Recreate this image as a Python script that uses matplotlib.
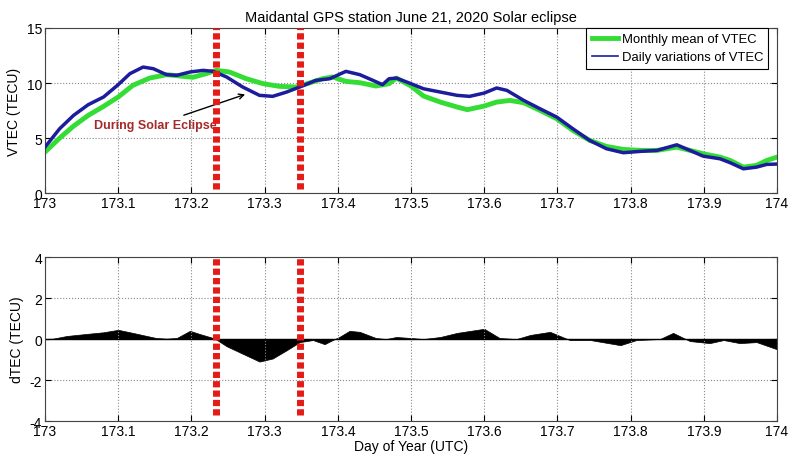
import numpy as np
import matplotlib
matplotlib.use("Agg")
import matplotlib.pyplot as plt

plt.rcParams['font.family'] = ['Liberation Sans', 'DejaVu Sans']
plt.rcParams['font.size'] = 10
plt.rcParams['axes.unicode_minus'] = False

# =============================
# DATA
# =============================
day_daily = [173.0, 173.02, 173.039, 173.059, 173.08, 173.1, 173.116, 173.134, 173.148, 173.166,
             173.18, 173.198, 173.216, 173.23, 173.248, 173.27, 173.293, 173.311, 173.33, 173.348,
             173.37, 173.389, 173.411, 173.43, 173.448, 173.461, 173.47, 173.48, 173.5, 173.517,
             173.54, 173.563, 173.58, 173.6, 173.617, 173.631, 173.654, 173.676, 173.699, 173.721,
             173.744, 173.767, 173.79, 173.813, 173.836, 173.863, 173.881, 173.899, 173.922, 173.936,
             173.954, 173.972, 173.986, 174.0]
vtec_daily = [4.18, 5.85, 7.06, 8.03, 8.73, 9.85, 10.85, 11.45, 11.3, 10.76,
              10.7, 11.0, 11.15, 11.06, 10.55, 9.64, 8.88, 8.79, 9.18, 9.64,
              10.24, 10.39, 11.06, 10.76, 10.24, 9.85, 10.39, 10.45, 9.94, 9.48,
              9.18, 8.88, 8.79, 9.09, 9.55, 9.33, 8.42, 7.67, 6.91, 5.85,
              4.79, 4.03, 3.67, 3.79, 3.88, 4.39, 3.88, 3.36, 3.12, 2.76,
              2.21, 2.36, 2.61, 2.64]

day_mean = [173.0, 173.02, 173.039, 173.059, 173.08, 173.1, 173.12, 173.143, 173.166, 173.184,
            173.202, 173.22, 173.234, 173.252, 173.275, 173.298, 173.32, 173.343, 173.361, 173.379,
            173.393, 173.411, 173.43, 173.452, 173.47, 173.48, 173.5, 173.517, 173.54, 173.563,
            173.577, 173.6, 173.617, 173.635, 173.654, 173.676, 173.699, 173.721, 173.744, 173.767,
            173.79, 173.813, 173.836, 173.863, 173.881, 173.899, 173.922, 173.936, 173.954, 173.972,
            173.986, 174.0]
vtec_mean = [3.73, 5.0, 6.09, 7.06, 7.88, 8.73, 9.79, 10.45, 10.76, 10.64,
             10.52, 10.85, 11.15, 11.0, 10.39, 9.94, 9.7, 9.64, 10.0, 10.39,
             10.55, 10.15, 10.03, 9.73, 9.94, 10.45, 9.73, 8.82, 8.27, 7.82,
             7.58, 7.91, 8.27, 8.42, 8.21, 7.52, 6.76, 5.7, 4.79, 4.24,
             3.97, 3.88, 3.88, 4.18, 3.88, 3.58, 3.27, 2.97, 2.36, 2.52,
             2.97, 3.27]

day_dtec = [173.0, 173.011, 173.03, 173.057, 173.08, 173.1, 173.12, 173.139, 173.152, 173.166,
            173.18, 173.198, 173.211, 173.227, 173.233, 173.248, 173.266, 173.293, 173.311, 173.33,
            173.348, 173.366, 173.382, 173.393, 173.402, 173.416, 173.43, 173.452, 173.466, 173.48,
            173.5, 173.517, 173.54, 173.563, 173.6, 173.621, 173.644, 173.663, 173.69, 173.717,
            173.745, 173.786, 173.808, 173.84, 173.858, 173.881, 173.908, 173.927, 173.949, 173.972,
            174.0]
dtec = [0.0, 0.02, 0.15, 0.25, 0.33, 0.45, 0.3, 0.15, 0.05, 0.02,
        0.05, 0.4, 0.25, 0.08, 0.0, -0.35, -0.65, -1.1, -0.95, -0.55,
        -0.15, -0.05, -0.25, -0.05, 0.1, 0.4, 0.35, 0.05, 0.0, 0.1,
        0.05, 0.0, 0.1, 0.3, 0.5, 0.05, 0.0, 0.2, 0.35, -0.05,
        -0.05, -0.3, -0.05, 0.0, 0.3, -0.1, -0.2, -0.05, -0.2, -0.15,
        -0.5]

eclipse_days = [173.233, 173.348]
xticks = [173, 173.1, 173.2, 173.3, 173.4, 173.5, 173.6, 173.7, 173.8, 173.9, 174]
xticklabels = ['173', '173.1', '173.2', '173.3', '173.4', '173.5', '173.6', '173.7', '173.8', '173.9', '174']

# =============================
# FIGURE
# =============================
fig = plt.figure(figsize=(7.88, 4.6), dpi=100)
ax1 = fig.add_axes([0.0571, 0.578, 0.929, 0.359])
ax2 = fig.add_axes([0.0571, 0.0826, 0.929, 0.3564])

red_style = dict(color='#e41b17', linewidth=5, linestyle=(0, (0.9, 0.45)), zorder=4)

# top panel
ax1.plot(day_mean, vtec_mean, color='#33dd33', linewidth=3.5, label='Monthly mean of VTEC',
         zorder=2, solid_joinstyle='round')
ax1.plot(day_daily, vtec_daily, color='#1c1c9c', linewidth=2.5, label='Daily variations of VTEC',
         zorder=3, solid_joinstyle='round')
for d in eclipse_days:
    ax1.plot([d, d], [0.4, 15], **red_style)
ax1.annotate('During Solar Eclipse', xy=(173.277, 9.05), xytext=(173.067, 6.2),
             color='#a52a2a', fontsize=9, fontweight='bold', va='center',
             arrowprops=dict(arrowstyle='->', color='black', lw=1))
ax1.set_xlim(173, 174)
ax1.set_ylim(0, 15)
ax1.set_yticks([0, 5, 10, 15])
ax1.set_ylabel('VTEC (TECU)')
ax1.set_title('Maidantal GPS station June 21, 2020 Solar eclipse', fontsize=10.5, pad=5)
leg = ax1.legend(loc='upper right', bbox_to_anchor=(0.988, 1.0), fancybox=False,
                 edgecolor='black', framealpha=1, borderaxespad=0, fontsize=9.4,
                 handlelength=2.0, handletextpad=0.3, borderpad=0.4, labelspacing=0.45)
leg.get_frame().set_linewidth(0.8)
leg.get_lines()[1].set_linewidth(1.2)

# bottom panel
ax2.fill_between(day_dtec, dtec, 0, color='black', linewidth=0.5)
ax2.axhline(0, color='black', linewidth=1)
for d in eclipse_days:
    ax2.plot([d, d], [-3.7, 4], **red_style)
ax2.set_xlim(173, 174)
ax2.set_ylim(-4, 4)
ax2.set_yticks([-4, -2, 0, 2, 4])
ax2.set_ylabel('dTEC (TECU)')
ax2.set_xlabel('Day of Year (UTC)', labelpad=1)

for ax in (ax1, ax2):
    ax.set_xticks(xticks)
    ax.set_xticklabels(xticklabels)
    ax.grid(True, linestyle=':', color='#888888', linewidth=0.8)
    ax.tick_params(direction='in', top=True, right=True, length=4, pad=2)
    for s in ax.spines.values():
        s.set_color('#444444')

fig.savefig('out.png', dpi=100)
